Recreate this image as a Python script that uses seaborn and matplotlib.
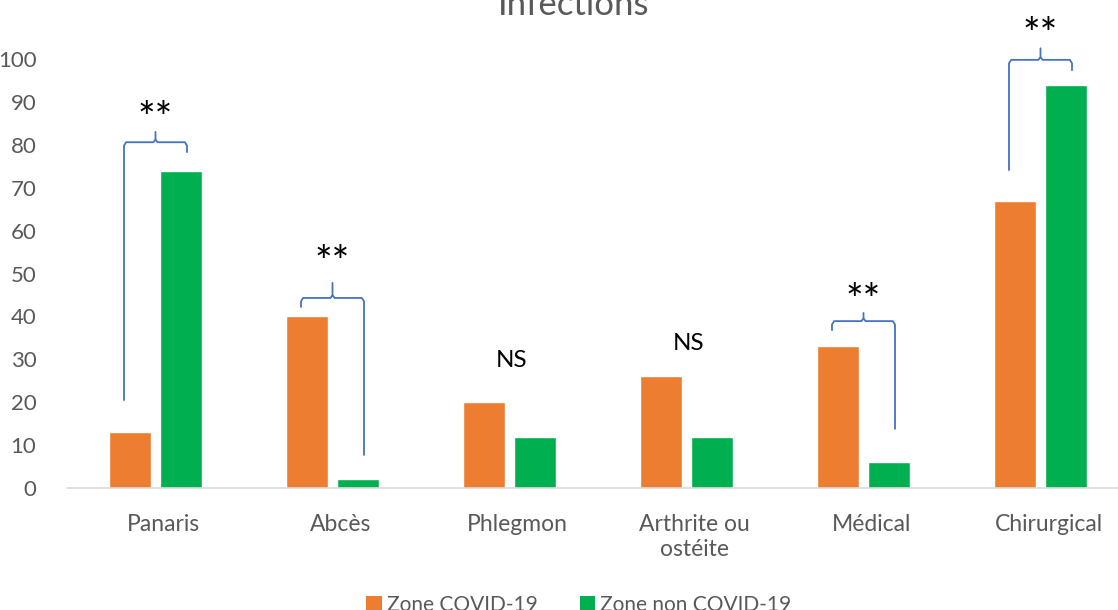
import matplotlib
matplotlib.use("Agg")
import matplotlib.pyplot as plt
import matplotlib.transforms as mtransforms
from matplotlib.patches import Patch
import seaborn as sns
import pandas as pd

# ---- data ----
categories = ["Panaris", "Abcès", "Phlegmon", "Arthrite ou\nostéite", "Médical", "Chirurgical"]
series_names = ["Zone COVID-19", "Zone non COVID-19"]
covid_values = [13, 40, 20, 26, 33, 67]
non_covid_values = [74, 2, 12, 12, 6, 94]
y_ticks = [0, 10, 20, 30, 40, 50, 60, 70, 80, 90, 100]
title_text = "Infections"

# significance annotations: (category index, label, label y)
sig_labels = [(0, "**", 89), (1, "**", 55.5), (2, "NS", 29.8), (3, "NS", 33.6),
              (4, "**", 46.6), (5, "**", 108.6)]
# braces: (category index, left leg bottom, right leg bottom, horizontal y, tip y)
braces = [(0, 20.5, 78.3, 80.6, 83.0),
          (1, 42.2, 7.7, 44.3, 47.8),
          (4, 36.8, 13.8, 38.9, 40.8),
          (5, 74.1, 97.4, 99.8, 102.5)]

colors = ["#ED7D31", "#00B050"]
brace_color = "#4472C4"
text_gray = "#595959"

df = pd.DataFrame({
    "cat": categories * 2,
    "zone": [series_names[0]] * len(categories) + [series_names[1]] * len(categories),
    "val": covid_values + non_covid_values,
})

sns.set_theme(style="white")
plt.rcParams["font.family"] = ["Lato", "DejaVu Sans"]

fig = plt.figure(figsize=(11.18, 6.10), dpi=100)
ax = fig.add_axes([67 / 1118, 0.2, 1062 / 1118, 429 / 610])

sns.barplot(data=df, x="cat", y="val", hue="zone", palette=colors,
            width=0.576, gap=0.19, ax=ax, legend=False, saturation=1,
            errorbar=None)

ax.set_xlim(-0.5, 5.5)
ax.set_ylim(0, 100)
ax.set_yticks(y_ticks)
ax.set_xlabel("")
ax.set_ylabel("")
for s in ["top", "right", "left"]:
    ax.spines[s].set_visible(False)
ax.spines["bottom"].set_color("#D9D9D9")
ax.spines["bottom"].set_linewidth(1.2)
ax.tick_params(axis="y", length=0, pad=22, labelsize=16, labelcolor=text_gray)
ax.tick_params(axis="x", length=0, pad=19, labelsize=16.5, labelcolor=text_gray)
offset = mtransforms.ScaledTranslation(8 / 100, 0, fig.dpi_scale_trans)
for lbl in ax.get_xticklabels():
    lbl.set_transform(lbl.get_transform() + offset)
    lbl.set_linespacing(1.2)

# braces
for i, yl, yr, h, tip in braces:
    xl, xm, xr = i - 0.178, i, i + 0.178
    left = [(xl, yl), (xl, h - 0.8), (xl + 0.012, h), (xm - 0.012, h), (xm, h + 0.6), (xm, tip)]
    right = [(xm, h + 0.6), (xm + 0.012, h), (xr - 0.012, h), (xr, h - 0.8), (xr, yr)]
    for pts in (left, right):
        ax.plot([p[0] for p in pts], [p[1] for p in pts], color=brace_color,
                lw=1.3, clip_on=False, solid_joinstyle="round")

for i, txt, y in sig_labels:
    if txt == "**":
        ax.text(i, y - 3.2, txt, ha="center", va="center", fontsize=30,
                color="black", clip_on=False)
    else:
        ax.text(i + 0.01, y, txt, ha="center", va="center", fontsize=17.5,
                color="black", clip_on=False)

fig.text(574 / 1118, (610 - 15) / 610, title_text, ha="center", va="baseline",
         fontsize=25, color=text_gray)

handles = [Patch(facecolor=c, edgecolor="none") for c in colors]
fig.legend(handles, series_names, loc="center", bbox_to_anchor=(579 / 1118, 5 / 610),
           ncol=2, frameon=False, fontsize=15, labelcolor=text_gray,
           handlelength=0.75, handleheight=0.75, handletextpad=0.25, columnspacing=2.0)

fig.savefig("out.png", dpi=100)
